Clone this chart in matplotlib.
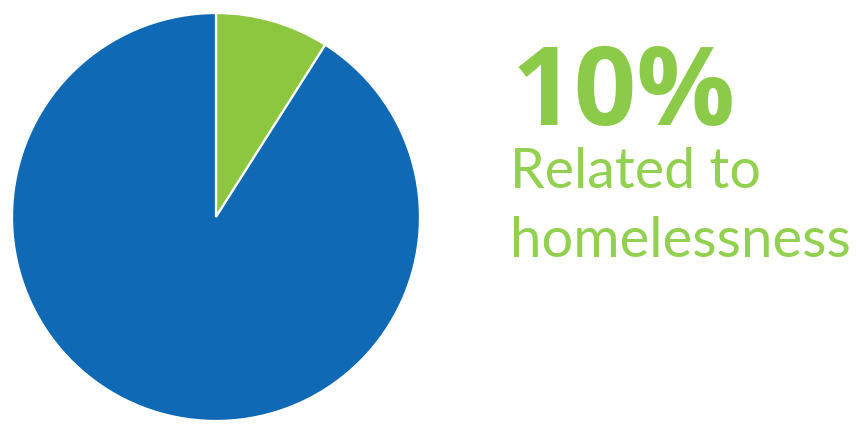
import matplotlib.pyplot as plt

# share of cases (wedge), headline label
labels = ['Related to homelessness', 'Other']
values = [9, 91]
colors = ['#8DC63F', '#0F69B4']
headline = '10%'
caption = ['Related to', 'homelessness']

fig = plt.figure(figsize=(8.57, 4.24), dpi=100)
ax = fig.add_axes([11 / 857, 2 / 424, 410 / 857, 410 / 424])
ax.pie(values, colors=colors, startangle=90, counterclock=False,
       wedgeprops=dict(edgecolor='white', linewidth=1.6))
ax.set_xlim(-1.005, 1.005)
ax.set_ylim(-1.005, 1.005)
ax.set_aspect('equal')
ax.axis('off')

green = '#92D050'
fig.text(511 / 857, 1 - 125 / 424, headline, color='#8CCB4A', fontsize=79,
         fontweight='bold', family='Open Sans', va='baseline', ha='left')
fig.text(510 / 857, 1 - 188 / 424, caption[0], color=green, fontsize=40,
         family='Lato', va='baseline', ha='left')
fig.text(510 / 857, 1 - 257 / 424, caption[1], color=green, fontsize=40.5,
         family='Lato', va='baseline', ha='left')

fig.savefig('out.png', dpi=100)
